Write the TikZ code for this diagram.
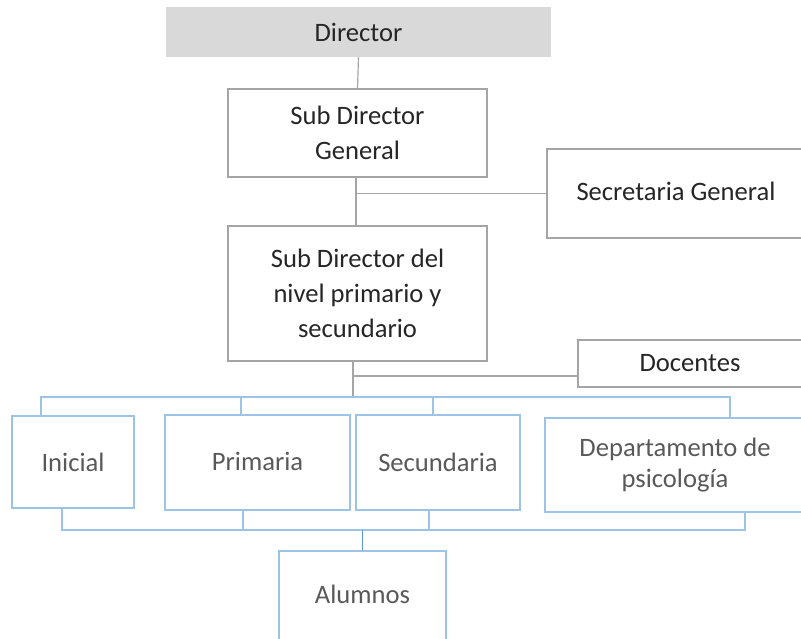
\documentclass[tikz,border=0pt]{standalone}
\usepackage{fontspec}
\setmainfont{Carlito}
\usepackage{tikz}
\usetikzlibrary{calc}

\definecolor{boxgray}{RGB}{165,165,165}
\definecolor{dirfill}{RGB}{217,217,217}
\definecolor{linkblue}{RGB}{157,195,230}
\definecolor{darkblue}{RGB}{91,155,213}
\definecolor{textdark}{RGB}{38,38,38}
\definecolor{textgray}{RGB}{89,89,89}

\begin{document}
\begin{tikzpicture}[x=1pt,y=-1pt,
    font=\fontsize{26.6}{35}\selectfont,
    graybox/.style={draw=boxgray, line width=1.2pt, fill=white, text=textdark, align=center, inner sep=0pt},
    bluebox/.style={draw=linkblue, line width=1.2pt, fill=white, text=textgray, align=center, inner sep=0pt},
    graylink/.style={draw=boxgray, line width=1.2pt},
    bluelink/.style={draw=linkblue, line width=1.2pt}]
        \useasboundingbox (0,0) rectangle (801,639);
        \clip (0,0) rectangle (801,639);
        % upper levels
        \node[fill=dirfill, text=textdark, minimum width=385pt, minimum height=50pt] (dir) at (358.5,32) {Director};
        \node[graybox, minimum width=259pt, minimum height=88pt] (sdg) at (357.5,133) {Sub Director\\General};
        \node[graybox, minimum width=258pt, minimum height=89pt] (sec) at (676,193.5) {\raisebox{5pt}{Secretaria General}};
        \node[graybox, minimum width=259pt, minimum height=135pt] (sdn) at (357.5,293.5) {Sub Director del\\nivel primario y\\secundario};
        \node[graybox, minimum width=224pt, minimum height=47pt] (doc) at (690,363.5) {\raisebox{-2pt}{Docentes}};
        % levels
        \node[bluebox, minimum width=122pt, minimum height=92pt] (ini) at (73,462) {Inicial};
        \node[bluebox, minimum width=185pt, minimum height=95pt] (pri) at (257.5,462.5) {\raisebox{2pt}{Primaria}};
        \node[bluebox, minimum width=164pt, minimum height=95pt] (secu) at (438,462.5) {Secundaria};
        \node[bluebox, minimum width=260pt, minimum height=94pt] (dep) at (675,465) {\raisebox{4pt}{\shortstack{Departamento de\\[6pt]psicolog\'ia}}};
        \node[bluebox, minimum width=167pt, minimum height=98pt] (alu) at (362.5,600) {\raisebox{12pt}{Alumnos}};
        %
        \coordinate (hub) at (353,397);
        \coordinate (bot) at (alu.north |- 0,530);
        \draw[graylink] (dir.south) -- (sdg.north);
        \draw[graylink] ([xshift=-1.5pt]sdg.south) -- ([xshift=-1.5pt]sdn.north);
        \draw[graylink] (sec.west) -- ($(sec.west -| sdg.south)+(-1.5,0)$);
        \draw[graylink] ([xshift=-4.5pt]sdn.south) -- (hub);
        \draw[graylink] ([yshift=-12.5pt]doc.west) -- ($(hub)+(0,-21)$);
        %
        \draw[bluelink] (hub) -| ([xshift=-32pt]ini.north);
        \draw[bluelink] (hub) -| ([xshift=-16.5pt]pri.north);
        \draw[bluelink] (hub) -| ([xshift=-5pt]secu.north);
        \draw[bluelink] (hub) -| ([xshift=55pt]dep.north);
        %
        \draw[bluelink] ([xshift=-11pt]ini.south) |- (bot);
        \draw[bluelink] ([xshift=-14.5pt]pri.south) |- (bot);
        \draw[bluelink] ([xshift=-9pt]secu.south) |- (bot);
        \draw[bluelink] ([xshift=70pt]dep.south) |- (bot);
        \draw[bluelink, draw=darkblue] (bot) -- (alu.north);
\end{tikzpicture}
\end{document}
